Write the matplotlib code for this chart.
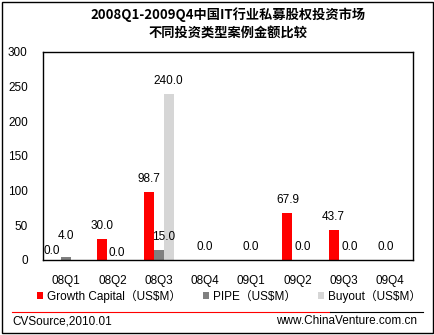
import numpy as np
import matplotlib
matplotlib.use("Agg")
import matplotlib.pyplot as plt
from matplotlib.patches import Rectangle
from matplotlib.lines import Line2D

plt.rcParams['font.family'] = ['Liberation Sans', 'Noto Sans CJK SC', 'DejaVu Sans']

# --- data (US$M per quarter) -------------------------------------------------
quarters = ["08Q1", "08Q2", "08Q3", "08Q4", "09Q1", "09Q2", "09Q3", "09Q4"]
growth   = [0.0, 30.0, 98.7, np.nan, np.nan, 67.9, 43.7, np.nan]
pipe     = [4.0, 0.0, 15.0, 0.0, 0.0, 0.0, 0.0, 0.0]
buyout   = [np.nan, np.nan, 240.0, np.nan, np.nan, np.nan, np.nan, np.nan]
series_names = ["Growth Capital（US$M）", "PIPE（US$M）", "Buyout（US$M）"]
colors = ["#FF0000", "#808080", "#D6D6D6"]
title = "2008Q1-2009Q4中国IT行业私募股权投资市场\n不同投资类型案例金额比较"

# label nudges (pixels) so crowded labels don't collide: (series, quarter) -> (dx, dy)
nudge = {(0, 0): (-4, -4), (1, 0): (0, 8), (1, 1): (4, -6), (1, 2): (5, 0),
         (1, 5): (5, 0), (1, 6): (6, 0), (1, 7): (-4, 0)}

W, H = 435, 335
fig = plt.figure(figsize=(W/100, H/100), dpi=100)
ax = fig.add_axes([43/W, 1-260/H, 370/W, 208/H])

x = np.arange(len(quarters))
bw = 0.216
handles = []
for k, (vals, c, name) in enumerate(zip([growth, pipe, buyout], colors, series_names)):
    xs = x + (k-1)*bw
    h = ax.bar(xs, np.nan_to_num(vals), width=bw, color=c, label=name, linewidth=0)
    handles.append(h)
    for i, (xi, v) in enumerate(zip(xs, vals)):
        if np.isnan(v):
            continue
        dx, dy = nudge.get((k, i), (0, 0))
        ax.annotate(f"{v:.1f}", (xi, v), xytext=(dx*0.72, 5 + dy*0.72),
                    textcoords="offset points", ha="center", va="bottom", fontsize=8.5)

ax.set_xlim(-0.5, len(quarters)-0.5)
ax.set_ylim(0, 300)
ax.set_yticks(np.arange(0, 301, 50))
ax.set_xticks(x)
ax.set_xticklabels(quarters)
ax.tick_params(axis="both", length=0, labelsize=8.5)
ax.tick_params(axis="y", pad=11)
ax.tick_params(axis="x", pad=11)
for s in ax.spines.values():
    s.set_linewidth(1.0)

fig.text(228/W, 1-24/H, title, ha="center", va="center", fontsize=9.5,
         fontweight="bold", linespacing=1.45,
         family=["Noto Sans CJK SC", "DejaVu Sans"])

fig.legend(handles=handles, loc="center", bbox_to_anchor=(229/W, 1-296/H), ncol=3,
           frameon=False, fontsize=8.5, handlelength=0.5, handleheight=0.5,
           handletextpad=0.3, columnspacing=1.9)

# footer rule and source lines
fig.add_artist(Line2D([12/W, 330/W], [1-312/H]*2, color="#FF0000", lw=0.8))
fig.add_artist(Line2D([330/W, 423/W], [1-312/H]*2, color="black", lw=0.8))
fig.text(12/W, 1-321/H, "CVSource,2010.01", ha="left", va="center", fontsize=8.5)
fig.text(417/W, 1-321/H, "www.ChinaVenture.com.cn", ha="right", va="center", fontsize=8.5)

# outer frame
fig.add_artist(Rectangle((2/W, 2/H), 431/W, 331/H, transform=fig.transFigure,
                         fill=False, edgecolor="black", lw=1.0))

fig.savefig("out.png", dpi=100)
